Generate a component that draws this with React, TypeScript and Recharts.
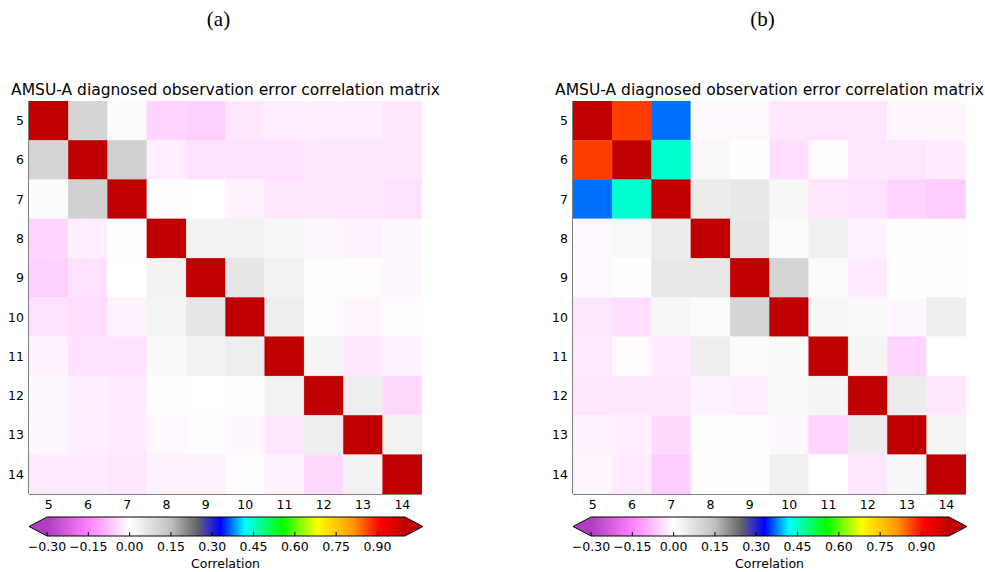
import React from 'react';
import { ScatterChart, Scatter, XAxis, YAxis, ComposedChart, Bar } from 'recharts';

// AMSU-A channel numbers on both matrix axes
const CHANNELS = [5, 6, 7, 8, 9, 10, 11, 12, 13, 14];

// (a) diagnosed observation error correlations, rows = channel 5..14
const CORR_A = [
  [1.0, 0.1, 0.01, -0.05, -0.055, -0.03, -0.02, -0.02, -0.02, -0.03],
  [0.1, 1.0, 0.11, -0.02, -0.035, -0.035, -0.035, -0.03, -0.03, -0.03],
  [0.01, 0.11, 1.0, 0.003, 0.001, -0.015, -0.03, -0.03, -0.03, -0.035],
  [-0.05, -0.02, 0.003, 1.0, 0.03, 0.03, 0.018, -0.01, -0.015, -0.01],
  [-0.055, -0.035, 0.001, 0.03, 1.0, 0.06, 0.03, 0.005, -0.005, -0.01],
  [-0.035, -0.04, -0.015, 0.024, 0.06, 1.0, 0.04, -0.005, -0.012, -0.005],
  [-0.015, -0.035, -0.035, 0.012, 0.03, 0.04, 1.0, 0.025, -0.03, -0.015],
  [-0.01, -0.02, -0.025, -0.005, 0.001, -0.004, 0.03, 1.0, 0.04, -0.045],
  [-0.01, -0.02, -0.025, -0.008, -0.005, -0.01, -0.03, 0.04, 1.0, 0.03],
  [-0.025, -0.025, -0.03, -0.015, -0.015, -0.005, -0.015, -0.045, 0.03, 1.0],
];

// (b) diagnosed observation error correlations, rows = channel 5..14
const CORR_B = [
  [1.0, 0.87, 0.37, -0.008, -0.008, -0.03, -0.03, -0.03, -0.012, -0.012],
  [0.87, 1.0, 0.445, 0.015, 0.002, -0.04, -0.005, -0.03, -0.03, -0.025],
  [0.37, 0.445, 1.0, 0.045, 0.055, 0.02, -0.03, -0.035, -0.05, -0.06],
  [-0.008, 0.015, 0.045, 1.0, 0.06, 0.01, 0.035, -0.015, 0.005, 0.003],
  [-0.008, 0.002, 0.055, 0.058, 1.0, 0.1, 0.01, -0.025, 0.003, 0.003],
  [-0.03, -0.04, 0.02, 0.01, 0.1, 1.0, 0.02, 0.015, -0.01, 0.04],
  [-0.025, -0.005, -0.025, 0.04, 0.01, 0.015, 1.0, 0.025, -0.05, 0.0],
  [-0.03, -0.03, -0.03, -0.015, -0.02, 0.015, 0.025, 1.0, 0.045, -0.03],
  [-0.015, -0.02, -0.045, 0.004, 0.004, -0.01, -0.05, 0.045, 1.0, 0.025],
  [-0.012, -0.025, -0.06, 0.002, 0.004, 0.035, 0.0, -0.03, 0.02, 1.0],
];

// colour bar range and tick values
const CBAR_MIN = -0.3;
const CBAR_MAX = 1.0;
const CBAR_TICKS = [-0.3, -0.15, 0, 0.15, 0.3, 0.45, 0.6, 0.75, 0.9];

// colour map anchors (value, colour)
const CMAP: [number, string][] = [
  [-0.3, '#b03cc0'],
  [-0.15, '#ff80ff'],
  [0.0, '#ffffff'],
  [0.15, '#c0c0c0'],
  [0.24, '#6a6a6a'],
  [0.33, '#0000ff'],
  [0.42, '#00ffff'],
  [0.555, '#00ff00'],
  [0.68, '#ffff00'],
  [0.81, '#ff9900'],
  [0.91, '#ff0000'],
  [1.0, '#c00000'],
];

const FONT = "'DejaVu Sans', sans-serif";
const TITLE = 'AMSU-A diagnosed observation error correlation matrix';

const hexToRgb = (h: string) => [
  parseInt(h.slice(1, 3), 16),
  parseInt(h.slice(3, 5), 16),
  parseInt(h.slice(5, 7), 16),
];

function corrColor(v: number): string {
  const c = Math.max(CBAR_MIN, Math.min(CBAR_MAX, v));
  for (let i = 0; i < CMAP.length - 1; i++) {
    const [v0, h0] = CMAP[i];
    const [v1, h1] = CMAP[i + 1];
    if (c >= v0 && c <= v1) {
      const t = (c - v0) / (v1 - v0);
      const a = hexToRgb(h0);
      const b = hexToRgb(h1);
      const m = a.map((x, k) => Math.round(x + (b[k] - x) * t));
      return `rgb(${m[0]},${m[1]},${m[2]})`;
    }
  }
  return CMAP[CMAP.length - 1][1];
}

const fmtTick = (v: number) => (v < 0 ? '\u2212' : '') + Math.abs(v).toFixed(2);

// layout
const PANEL_W = 450;
const HEAT_H = 520;
const HEAT_MARGIN = { top: 101, right: 28, bottom: 6, left: 4 };
const Y_AXIS_W = 25;
const X_AXIS_H = 20;
const PLOT_W = PANEL_W - HEAT_MARGIN.left - HEAT_MARGIN.right - Y_AXIS_W;
const CELL = PLOT_W / CHANNELS.length;
const CBAR_TOP = 505;
const CBAR_H = 67;
const CBAR_BAR_H = 19;
const CBAR_MARGIN = { top: 12, right: 45, bottom: 0, left: 47 };
const TICK_FONT = 12.5;

const AXIS_DOMAIN: [number, number] = [CHANNELS[0] - 0.5, CHANNELS[CHANNELS.length - 1] + 0.5];

const CellShape = (props: any) => {
  const { cx, cy, payload } = props;
  const fill = corrColor(payload.v);
  return (
    <rect
      x={cx - CELL / 2}
      y={cy - CELL / 2}
      width={CELL}
      height={CELL}
      fill={fill}
      stroke={fill}
      strokeWidth={0.4}
    />
  );
};

// gradient bar with triangular under/over extensions (5% of the bar length each)
// and inward tick marks along the lower edge
const ColorbarShape = (props: any) => {
  const { x, y, width, height, gradId } = props;
  const ext = width * 0.05;
  const mid = y + height / 2;
  const bottom = y + height;
  const outline = `${x},${y} ${x + width},${y} ${x + width + ext},${mid} ${x + width},${bottom} ${x},${bottom} ${x - ext},${mid}`;
  const tickX = (t: number) => x + ((t - CBAR_MIN) / (CBAR_MAX - CBAR_MIN)) * width;
  return (
    <g>
      <polygon points={`${x + 0.5},${y} ${x - ext},${mid} ${x + 0.5},${bottom}`} fill={corrColor(CBAR_MIN)} />
      <polygon
        points={`${x + width - 0.5},${y} ${x + width + ext},${mid} ${x + width - 0.5},${bottom}`}
        fill={corrColor(CBAR_MAX)}
      />
      <rect x={x} y={y} width={width} height={height} fill={`url(#${gradId})`} />
      {CBAR_TICKS.map((t) => (
        <line key={t} x1={tickX(t)} x2={tickX(t)} y1={bottom - 4} y2={bottom} stroke="#000" strokeWidth={1} />
      ))}
      <polygon points={outline} fill="none" stroke="#000" strokeWidth={1} />
    </g>
  );
};

const CbarTick = (props: any) => {
  const { x, y, payload } = props;
  return (
    <text x={x} y={y + 15} textAnchor="middle" fontSize={TICK_FONT} fontFamily={FONT} fill="#000">
      {fmtTick(payload.value)}
    </text>
  );
};

function Panel({ caption, matrix, left, gradId }: { caption: string; matrix: number[][]; left: number; gradId: string }) {
  const cells = matrix.flatMap((row, i) => row.map((v, j) => ({ x: CHANNELS[j], y: CHANNELS[i], v })));
  const cbarData = [{ name: 'Correlation', range: [CBAR_MIN, CBAR_MAX] }];
  const plotCenter = HEAT_MARGIN.left + Y_AXIS_W + PLOT_W / 2;
  const tickStyle = { fontSize: TICK_FONT, fontFamily: FONT, fill: '#000' };
  return (
    <div style={{ position: 'absolute', left, top: 0, width: PANEL_W, height: 572 }}>
      <svg width={PANEL_W} height={572} style={{ position: 'absolute', left: 0, top: 0 }}>
        <text x={218.5} y={26} textAnchor="middle" fontSize={21} fontFamily="'Liberation Serif', serif" fill="#000">
          {caption}
        </text>
        <text x={plotCenter} y={95} textAnchor="middle" fontSize={15.5} fontFamily={FONT} fill="#000">
          {TITLE}
        </text>
        <text x={plotCenter} y={568} textAnchor="middle" fontSize={TICK_FONT} fontFamily={FONT} fill="#000">
          Correlation
        </text>
      </svg>
      <div style={{ position: 'absolute', left: 0, top: 0 }}>
        <ScatterChart width={PANEL_W} height={HEAT_H} margin={HEAT_MARGIN}>
          <XAxis
            dataKey="x"
            type="number"
            domain={AXIS_DOMAIN}
            ticks={CHANNELS}
            interval={0}
            height={X_AXIS_H}
            tickSize={0}
            tickMargin={6}
            tickLine={false}
            axisLine={{ stroke: '#000' }}
            tick={tickStyle}
            allowDataOverflow
          />
          <XAxis
            xAxisId="frameTop"
            orientation="top"
            type="number"
            domain={AXIS_DOMAIN}
            height={0}
            tick={false}
            tickLine={false}
            axisLine={{ stroke: '#000' }}
          />
          <YAxis
            dataKey="y"
            type="number"
            domain={AXIS_DOMAIN}
            reversed
            ticks={CHANNELS}
            interval={0}
            width={Y_AXIS_W}
            tickSize={0}
            tickMargin={5}
            tickLine={false}
            axisLine={{ stroke: '#000' }}
            tick={tickStyle}
            allowDataOverflow
          />
          <YAxis
            yAxisId="frameRight"
            orientation="right"
            type="number"
            domain={AXIS_DOMAIN}
            width={0}
            tick={false}
            tickLine={false}
            axisLine={{ stroke: '#000' }}
          />
          <Scatter data={cells} shape={CellShape} isAnimationActive={false} />
        </ScatterChart>
      </div>
      <div style={{ position: 'absolute', left: 0, top: CBAR_TOP }}>
        <ComposedChart
          width={PANEL_W}
          height={CBAR_H}
          margin={CBAR_MARGIN}
          data={cbarData}
          layout="vertical"
          barCategoryGap={0}
          barGap={0}
        >
          <defs>
            <linearGradient id={gradId} x1="0" y1="0" x2="1" y2="0">
              {CMAP.map(([v, c]) => (
                <stop key={v} offset={(v - CBAR_MIN) / (CBAR_MAX - CBAR_MIN)} stopColor={c} />
              ))}
            </linearGradient>
          </defs>
          <XAxis
            type="number"
            domain={[CBAR_MIN, CBAR_MAX]}
            ticks={CBAR_TICKS}
            interval={0}
            height={CBAR_H - CBAR_MARGIN.top - CBAR_BAR_H}
            tickSize={0}
            tickMargin={0}
            tickLine={false}
            axisLine={false}
            tick={<CbarTick />}
          />
          <YAxis type="category" dataKey="name" hide />
          <Bar
            dataKey="range"
            isAnimationActive={false}
            shape={(p: any) => <ColorbarShape {...p} gradId={gradId} />}
          />
        </ComposedChart>
      </div>
    </div>
  );
}

export default function App() {
  return (
    <div style={{ position: 'absolute', left: 0, top: 0, width: 985, height: 572, background: '#fff' }}>
      <Panel caption="(a)" matrix={CORR_A} left={0} gradId="cbar-a" />
      <Panel caption="(b)" matrix={CORR_B} left={544} gradId="cbar-b" />
    </div>
  );
}
